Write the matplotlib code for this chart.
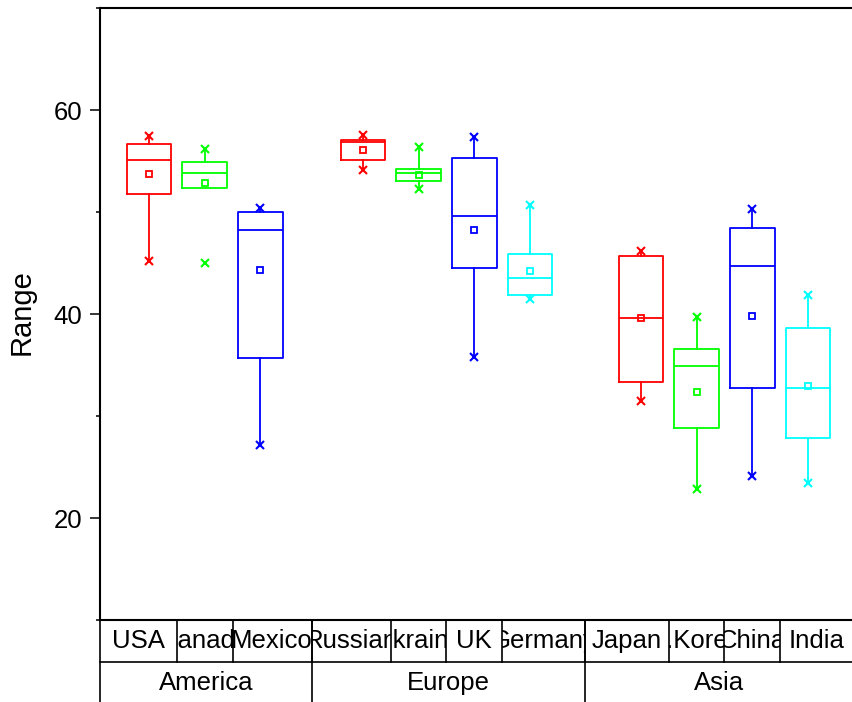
import numpy as np
import matplotlib
matplotlib.use("Agg")
import matplotlib.pyplot as plt
from matplotlib.transforms import blended_transform_factory, Bbox, TransformedBbox

plt.rcParams['font.family'] = ['Liberation Sans', 'DejaVu Sans']

# data
countries = ["USA", "Canada", "Mexico", "Russian", "Ukraine", "UK", "Germany",
             "Japan", "S.Korea", "China", "India"]
continents = ["America", "Europe", "Asia"]
group_sizes = [3, 4, 4]

q1 = [51.8, 52.4, 35.7, 55.1, 53.0, 44.5, 41.9, 33.3, 28.8, 32.7, 27.8]
q3 = [56.7, 54.9, 50.0, 57.05, 54.2, 55.3, 45.85, 45.7, 36.6, 48.4, 38.6]
median = [55.1, 53.8, 48.2, 56.9, 53.85, 49.6, 43.5, 39.6, 34.9, 44.7, 32.7]
mean = [53.7, 52.8, 44.3, 56.1, 53.6, 48.2, 44.2, 39.6, 32.4, 39.8, 32.9]
data_min = [45.2, 45.0, 27.2, 54.1, 52.3, 35.8, 41.5, 31.5, 22.8, 24.1, 23.4]
data_max = [57.5, 56.2, 50.4, 57.55, 56.4, 57.4, 50.7, 46.2, 39.7, 50.3, 41.9]
whisker_low = [45.2, 52.4, 27.2, 54.1, 52.3, 35.8, 41.5, 31.5, 22.8, 24.1, 23.4]
whisker_high = [57.5, 56.2, 50.4, 57.55, 56.4, 57.4, 50.7, 46.2, 39.7, 50.3, 41.9]

# layout
group_offsets = [0.0, 3.84, 8.83]
palette = ["#FF0000", "#00FF00", "#0000FF", "#00FFFF"]
xlim = (-0.88, 12.62)

positions = []
colors = []
for off, n in zip(group_offsets, group_sizes):
    for i in range(n):
        positions.append(off + i)
        colors.append(palette[i])

stats = []
for i, name in enumerate(countries):
    stats.append(dict(label=name, q1=q1[i], q3=q3[i], med=median[i], mean=mean[i],
                      whislo=whisker_low[i], whishi=whisker_high[i], fliers=[]))

fig = plt.figure(figsize=(8.52, 7.02), dpi=100)
ax = fig.add_axes([100/852, 82/702, 752/852, 612/702])

bp = ax.bxp(stats, positions=positions, widths=0.8, showmeans=True, showcaps=False,
            showfliers=False, manage_ticks=False,
            boxprops=dict(linewidth=1.3),
            whiskerprops=dict(linewidth=1.3),
            medianprops=dict(linewidth=1.3),
            meanprops=dict(marker="s", markerfacecolor="none", markersize=5,
                           markeredgewidth=1.3))
for i, c in enumerate(colors):
    bp["boxes"][i].set_color(c)
    bp["medians"][i].set_color(c)
    bp["means"][i].set_markeredgecolor(c)
    bp["whiskers"][2*i].set_color(c)
    bp["whiskers"][2*i+1].set_color(c)

# min / max markers
for i, c in enumerate(colors):
    ax.plot([positions[i], positions[i]], [data_min[i], data_max[i]], ls="none",
            marker="x", markersize=6, mew=1.5, color=c)

ax.set_xlim(*xlim)
ax.set_ylim(10, 70)
ax.set_yticks([20, 40, 60])
ax.set_yticks([10, 30, 50, 70], minor=True)
ax.set_xticks([])
ax.tick_params(axis="y", which="major", direction="out", length=7, width=1.1,
               labelsize=18.5, pad=6)
ax.tick_params(axis="y", which="minor", direction="out", length=3, width=1.1)
ax.spines["right"].set_visible(False)
for s in ["left", "top", "bottom"]:
    ax.spines[s].set_linewidth(1.5)

ax.set_ylabel("Range", fontsize=21)
ax.yaxis.set_label_coords(-0.085, 0.503)

# label table below the axis
trans = blended_transform_factory(ax.transData, ax.transAxes)
row1 = -42/612
row2 = -90/612
kw = dict(transform=trans, clip_on=False, color="black", lw=1.2)

edges = [xlim[0]]
for a, b in zip(positions[:-1], positions[1:]):
    edges.append((a + b) / 2)
edges.append(xlim[1])

ax.plot([xlim[0], xlim[1]], [row1, row1], **kw)
for e in edges[1:-1]:
    ax.plot([e, e], [0, row1], **kw)

group_edges = [xlim[0]]
start = 0
for n in group_sizes:
    start += n
    group_edges.append(edges[start])
for e in group_edges[:-1]:
    ax.plot([e, e], [0, row2], **kw)

# country names, clipped to their cells
for i, name in enumerate(countries):
    x0, x1 = edges[i], edges[i+1]
    t = ax.text((x0 + x1) / 2, row1 / 2, name, transform=trans, ha="center",
                va="center", fontsize=18.5)
    t.set_clip_box(TransformedBbox(Bbox([[x0, row1], [x1, 0]]), trans))
    t.set_clip_on(True)

for g, name in enumerate(continents):
    ax.text((group_edges[g] + group_edges[g+1]) / 2, -63/612, name,
            transform=trans, ha="center", va="center", fontsize=18.5)

fig.savefig("out.png", dpi=100)
